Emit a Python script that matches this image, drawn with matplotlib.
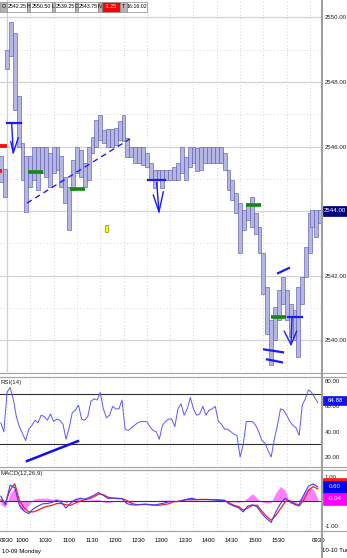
import numpy as np
import matplotlib
matplotlib.use("Agg")
import matplotlib.pyplot as plt
import matplotlib.transforms as mtransforms
from matplotlib.patches import Rectangle
from matplotlib.lines import Line2D

plt.rcParams["font.family"] = ["Liberation Sans", "DejaVu Sans"]

W, H = 347, 558

# ---- price bars: minutes from 09:30 on 10-09 (next session appended after 16:00)
bar_t = [-8, -3] + list(range(0, 391, 5)) + [393, 398, 403]
bar_high = [
    2545.70, 2545.30,
    2549.00, 2549.85, 2549.52, 2547.56, 2546.10, 2545.70, 2545.70, 2546.00, 2546.00, 2546.00,
    2546.00, 2545.80, 2546.00, 2546.00, 2545.70, 2545.07, 2544.76, 2545.59, 2546.00, 2545.90,
    2545.49, 2546.00, 2546.31, 2546.83, 2546.99, 2546.52, 2546.53, 2546.53, 2546.58, 2546.78,
    2546.99, 2546.26, 2546.00, 2546.00, 2546.00, 2546.00, 2545.80, 2545.49, 2545.28, 2545.28,
    2545.28, 2545.28, 2545.28, 2545.38, 2545.49, 2546.00, 2545.69, 2546.00, 2546.00, 2545.95,
    2546.00, 2546.00, 2546.00, 2546.00, 2546.00, 2546.00, 2545.80, 2545.28, 2544.97, 2544.55,
    2544.24, 2544.03, 2544.24, 2544.45, 2543.93, 2543.51, 2542.69, 2541.65, 2540.62, 2541.03,
    2541.55, 2541.96, 2541.55, 2541.13, 2540.93, 2541.65, 2541.96, 2542.89, 2543.93,
    2544.03, 2544.03, 2544.03,
]
bar_low = [
    2544.90, 2544.45,
    2548.40, 2548.80, 2547.14, 2546.00, 2544.97, 2543.99, 2544.76, 2544.97, 2544.66, 2545.18,
    2545.07, 2544.76, 2545.18, 2545.28, 2544.76, 2544.24, 2543.42, 2544.66, 2545.18, 2545.07,
    2544.76, 2544.97, 2545.80, 2546.00, 2546.21, 2546.10, 2546.00, 2546.00, 2546.05, 2546.21,
    2546.16, 2545.69, 2545.69, 2545.49, 2545.49, 2545.44, 2545.38, 2544.97, 2544.71, 2544.97,
    2544.71, 2544.97, 2544.97, 2544.97, 2544.97, 2545.18, 2544.97, 2545.38, 2545.49, 2545.23,
    2545.28, 2545.49, 2545.49, 2545.49, 2545.49, 2545.49, 2545.28, 2544.66, 2544.35, 2543.93,
    2542.69, 2543.41, 2543.72, 2543.51, 2543.30, 2542.69, 2541.44, 2540.20, 2539.25, 2540.00,
    2540.62, 2541.13, 2540.62, 2540.10, 2540.00, 2539.47, 2541.13, 2541.96, 2542.69,
    2543.51, 2543.20, 2543.62,
]

# ---- RSI(14), every 4 minutes
rsi_t = np.arange(-8, 401, 4)
rsi = [
    47, 40, 71, 75, 66, 52, 44, 38.5, 33, 42,
    45, 49, 47, 53, 52, 49, 54, 48, 50, 49,
    46, 34, 43, 55, 57, 61, 50, 49, 52, 64,
    66, 65, 71, 58, 51, 53, 60, 58, 58, 65,
    42, 41, 43, 45, 47, 48, 48, 48, 44, 41,
    40, 34, 45, 48, 50, 50, 44, 58, 62, 53,
    58, 67, 58, 53, 54, 60, 53, 57, 58, 60,
    48, 46, 42, 42, 40, 38, 37, 20, 30, 48,
    48, 48, 45, 40, 33, 31, 25, 20, 34, 45,
    58, 57, 53, 48, 45, 43, 37, 61, 66, 73,
    71, 67, 63,
]

# ---- MACD(12,26,9), every 6 minutes
macd_t = np.arange(-8, 401, 6)
macd_line = [
    0.20, -0.15, 0.65, 0.55, -0.17, -0.41, -0.51, -0.31, -0.20, -0.11,
    -0.10, -0.05, 0.03, -0.06, -0.28, -0.08, 0.05, 0.12, 0.08, 0.15,
    0.24, 0.35, 0.23, 0.11, 0.12, 0.12, 0.10, -0.10, -0.15, -0.16,
    -0.14, -0.12, -0.14, -0.16, -0.12, -0.08, -0.03, -0.01, -0.02, 0.03,
    0.08, 0.12, 0.06, 0.06, 0.06, 0.06, 0.04, 0.03, 0.03, -0.12,
    -0.20, -0.27, -0.44, -0.20, -0.15, -0.24, -0.51, -0.71, -0.87, -0.44,
    -0.10, 0.12, -0.03, -0.11, -0.14, 0.26, 0.61, 0.70, 0.58,
]
signal_line = [
    0.05, -0.05, 0.44, 0.71, 0.03, -0.28, -0.44, -0.44, -0.37, -0.27,
    -0.21, -0.17, -0.10, -0.10, -0.15, -0.17, -0.08, -0.01, 0.06, 0.10,
    0.18, 0.29, 0.26, 0.16, 0.12, 0.10, 0.10, 0.03, -0.09, -0.14,
    -0.14, -0.14, -0.15, -0.17, -0.17, -0.14, -0.11, -0.03, -0.01, 0.03,
    0.06, 0.07, 0.06, 0.07, 0.07, 0.06, 0.06, 0.05, 0.03, -0.08,
    -0.17, -0.22, -0.37, -0.28, -0.17, -0.17, -0.41, -0.62, -0.78, -0.58,
    -0.31, -0.03, 0.03, -0.14, -0.20, 0.06, 0.44, 0.59, 0.50,
]
macd_hist = [
    -0.15, -0.25, 0.30, 0.55, -0.30, -0.40, -0.15, 0.08, 0.12, 0.12,
    0.12, 0.08, 0.10, 0.06, -0.08, 0.05, 0.12, 0.10, 0.05, 0.04,
    0.06, 0.08, -0.04, -0.06, -0.03, 0.03, 0.02, -0.06, -0.04, -0.02,
    0.00, 0.02, -0.02, 0.00, 0.04, 0.04, 0.05, 0.03, 0.02, 0.03,
    0.05, 0.06, 0.03, 0.02, 0.02, 0.01, -0.01, -0.02, -0.01, -0.04,
    -0.03, -0.05, -0.02, 0.15, 0.30, 0.12, -0.05, -0.08, -0.05, 0.35,
    0.60, 0.45, -0.10, -0.08, 0.05, 0.30, 0.55, 0.50, 0.10,
]

time_ticks = list(range(30, 361, 30))
time_labels = ["1000", "1030", "1100", "1130", "1200", "1230", "1300",
               "1330", "1400", "1430", "1500", "1530"]
header = [("O", "2542.25"), ("H", "2550.50"), ("L", "2539.25"),
          ("C", "2543.75"), ("N", "-1.25"), ("T", "16:16:02")]

# drawn annotations (time in minutes, price)
green_marks = [((27, 46), 2545.22), ((81, 100), 2544.69),
               ((308, 327), 2544.19), ((340, 359), 2540.71)]

X_LEFT, X_RIGHT = -9.0, 405.4
FS = 4.4


def fx(x):
    return x / W


def fy(y):
    return 1 - y / H


def box(x0, x1, y0, y1, face, text="", tcolor="black", edge="#8a8a8a", size=3.8):
    fig.add_artist(Rectangle((fx(x0), fy(y1)), fx(x1 - x0), (y1 - y0) / H,
                             transform=fig.transFigure, facecolor=face,
                             edgecolor=edge, lw=0.5, zorder=10))
    if text:
        fig.text(fx((x0 + x1) / 2), fy((y0 + y1) / 2), text, ha="center",
                 va="center", fontsize=size, color=tcolor, zorder=11)


fig = plt.figure(figsize=(W / 100, H / 100), dpi=100)
ax_p = fig.add_axes([0, fy(372), fx(322), 372 / H])
ax_r = fig.add_axes([0, fy(467), fx(322), 90 / H])
ax_m = fig.add_axes([0, fy(531), fx(322), 62 / H])

for ax in (ax_p, ax_r, ax_m):
    ax.set_xlim(X_LEFT, X_RIGHT)
    ax.set_xticks([])
    for s in ax.spines.values():
        s.set_visible(False)
    ax.yaxis.tick_right()
    ax.tick_params(axis="y", length=0, pad=2.0, labelsize=FS, colors="#202020")
    for m in range(0, 391, 30):
        ax.axvline(m, color="#c4c4c4", lw=0.6, ls=(0, (1, 3)), zorder=0)

# --- price panel
ax_p.set_ylim(2539.02, 2550.54)
ax_p.set_yticks(range(2540, 2551, 2))
ax_p.set_yticklabels([f"{v:.2f}" if v != 2544 else "" for v in range(2540, 2551, 2)])
for v in range(2539, 2551):
    if v % 2 == 0:
        ax_p.axhline(v, color="#d4d4d4", lw=0.9, zorder=0)
    else:
        ax_p.axhline(v, color="#c8c8c8", lw=0.6, ls=(0, (1, 3)), zorder=0)
ax_p.axvline(0, color="#d0d0d0", lw=0.9, zorder=0)

ax_p.bar(bar_t, np.subtract(bar_high, bar_low), bottom=bar_low, width=5,
         color="#b6b6e4", edgecolor="#5e5eaa", linewidth=0.45, zorder=3)

for (m0, m1), p in green_marks:
    ax_p.plot([m0, m1], [p, p], color="#128a12", lw=2.6, solid_capstyle="butt", zorder=5)

ax_p.plot([-9, 0], [2546.02, 2546.02], color="#ff1010", lw=2.8, solid_capstyle="butt", zorder=5)
ax_p.plot([-9, -7], [2545.25, 2545.25], color="#ff1010", lw=2.8, solid_capstyle="butt", zorder=5)

blue = "#1a1aff"
# arrow near the open
ax_p.plot([0, 18], [2546.74, 2546.74], color=blue, lw=1.6, zorder=6)
ax_p.plot([6.0, 8.1], [2546.74, 2545.81], color=blue, lw=1.0, zorder=6)
ax_p.plot([4.8, 8.1, 14.5], [2546.15, 2545.81, 2546.27], color=blue, lw=1.0, zorder=6)
# dashed trend line
ax_p.plot([25.7, 158.3], [2544.25, 2546.24], color=blue, lw=1.0, ls=(0, (4, 3)), zorder=6)
# arrow around 12:45
ax_p.plot([181.5, 203.3], [2544.97, 2544.97], color=blue, lw=1.6, zorder=6)
ax_p.plot([192.7, 195.6], [2544.88, 2543.98], color=blue, lw=1.0, zorder=6)
ax_p.plot([188.3, 195.6, 201.2], [2544.50, 2543.98, 2544.60], color=blue, lw=1.0, zorder=6)
# marks near the low
ax_p.plot([348.8, 362.9], [2542.08, 2542.24], color=blue, lw=1.6, zorder=6)
ax_p.plot([361.7, 379.7], [2540.71, 2540.71], color=blue, lw=1.6, zorder=6)
ax_p.plot([366.8, 365.5], [2540.71, 2539.87], color=blue, lw=1.0, zorder=6)
ax_p.plot([356.9, 365.5, 372.8], [2540.28, 2539.87, 2540.28], color=blue, lw=1.0, zorder=6)
ax_p.plot([330.8, 355.2], [2539.72, 2539.63], color=blue, lw=1.6, zorder=6)
ax_p.plot([334.6, 353.9], [2539.41, 2539.32], color=blue, lw=1.6, zorder=6)
# small yellow marker
ax_p.add_patch(Rectangle((126, 2543.35), 4, 0.22, facecolor="#ffff00",
                         edgecolor="#8a8a00", lw=0.5, zorder=6))

# --- RSI panel
ax_r.set_ylim(12.1, 83.2)
ax_r.set_yticks([20, 40, 60, 80])
ax_r.set_yticklabels(["20.00", "40.00", "60.00", "80.00"])
ax_r.axhline(70, color="#303030", lw=0.8, zorder=1)
ax_r.axhline(30, color="#303030", lw=0.8, zorder=1)
ax_r.plot(rsi_t, rsi, color="#5858ff", lw=0.7, zorder=3)
ax_r.plot([25.7, 91.4], [16.8, 32.6], color="#1010ee", lw=1.8, zorder=4)
ax_r.text(0.002, 0.97, "RSI(14)", transform=ax_r.transAxes, ha="left", va="top",
          fontsize=FS, color="#202020")

# --- MACD panel
ax_m.set_ylim(-1.22, 1.31)
ax_m.set_yticks([-1, 1])
ax_m.set_yticklabels(["-1.00", "1.00"])
ax_m.fill_between(macd_t, 0, macd_hist, color="#ff55ff", alpha=0.75, lw=0, zorder=1)
ax_m.axhline(0, color="#30307a", lw=0.8, zorder=2)
ax_m.plot(macd_t, signal_line, color="#ff1a1a", lw=0.9, zorder=3)
ax_m.plot(macd_t, macd_line, color="#3a3aff", lw=0.8, zorder=4)
ax_m.text(0.002, 0.97, "MACD(12,26,9)", transform=ax_m.transAxes, ha="left", va="top",
          fontsize=FS, color="#202020")

# time labels below the MACD panel
trans = mtransforms.blended_transform_factory(ax_m.transData, ax_m.transAxes)
lab_y = -9 / 62
for m, lab in zip(time_ticks, time_labels):
    ax_m.text(m - 2.0, lab_y, lab, transform=trans, ha="right", va="center", fontsize=FS)
ax_m.text(X_LEFT, lab_y, "0930", transform=trans, ha="left", va="center", fontsize=FS)
ax_m.text(401.5, lab_y, "0930", transform=trans, ha="center", va="center", fontsize=FS)
fig.text(fx(2), fy(551), "10-09 Monday", ha="left", va="center", fontsize=FS)
fig.text(fx(322), fy(551), "10-10 Tues", ha="left", va="center", fontsize=FS)

# frame lines
for yy in (372.5, 376.5, 467, 469.5, 531):
    fig.add_artist(Line2D([0, 1], [fy(yy), fy(yy)], transform=fig.transFigure,
                          color="#a8a8a8", lw=0.9, zorder=8))
fig.add_artist(Line2D([fx(322), fx(322)], [0, 1], transform=fig.transFigure,
                      color="#a0a0a0", lw=1.5, zorder=8))

# highlighted last values on the right scale
box(323, 347, 206, 216, "#000080", "2544.00", "white", edge="#000080", size=FS)
box(323, 347, 396, 405, "#1414e6", "64.88", "white", edge="#1414e6", size=FS)
box(323, 347, 478, 481, "#ff1a1a", edge="#ff1a1a")
box(323, 347, 481, 493, "#0000ff", "0.60", "white", edge="#0000ff", size=FS)
box(323, 347, 493, 505, "#ff00ff", "-0.04", "white", edge="#ff00ff", size=FS)

# header strip
cells = [(0, 7, 27), (27, 30, 52), (52, 55, 75), (75, 78, 98), (98, 102, 120), (120, 127, 147)]
for (lab, val), (x0, x1, x2) in zip(header, cells):
    box(x0, x1, 2, 12, "#b4b4b4", lab)
    face, tc = ("#ff0000", "white") if lab == "N" else ("white", "black")
    box(x1, x2, 2, 12, face, val, tc)

fig.savefig("out.png", dpi=100)
